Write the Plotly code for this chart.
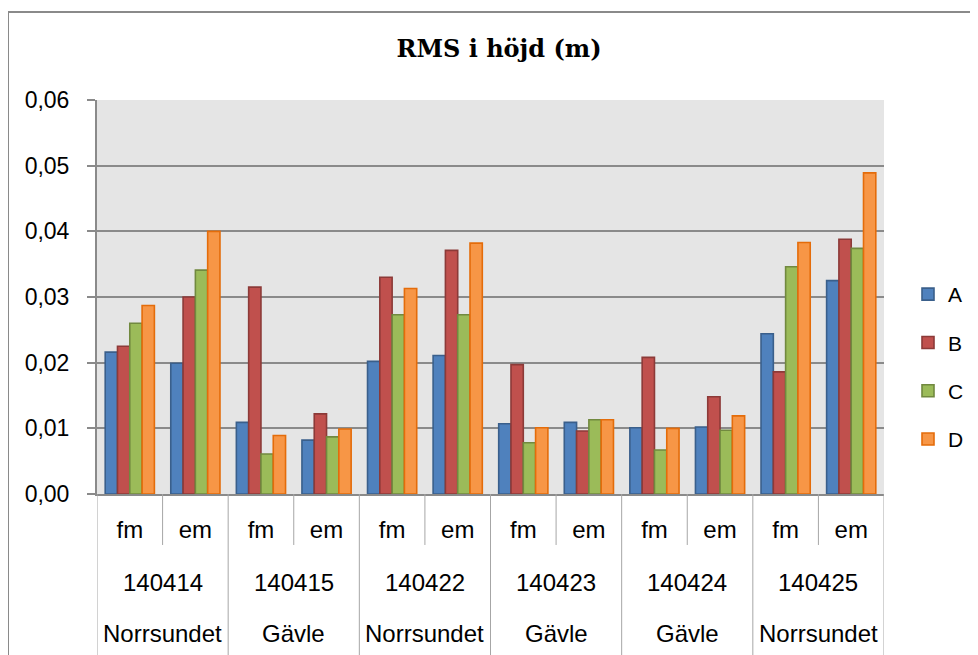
import plotly.graph_objects as go

dates = ["140414", "140415", "140422", "140423", "140424", "140425"]
places = ["Norrsundet", "Gävle", "Norrsundet", "Gävle", "Gävle", "Norrsundet"]
sessions = ["fm", "em"]

series_names = ["A", "B", "C", "D"]
values_a = [0.0216, 0.0199, 0.0109, 0.0082, 0.0202, 0.0211, 0.0107, 0.0109, 0.0101, 0.0102, 0.0244, 0.0325]
values_b = [0.0225, 0.0300, 0.0315, 0.0122, 0.0330, 0.0371, 0.0197, 0.0096, 0.0208, 0.0148, 0.0186, 0.0388]
values_c = [0.0260, 0.0341, 0.0061, 0.0087, 0.0273, 0.0273, 0.0078, 0.0113, 0.0067, 0.0097, 0.0346, 0.0374]
values_d = [0.0287, 0.0400, 0.0089, 0.0099, 0.0313, 0.0382, 0.0101, 0.0113, 0.0100, 0.0119, 0.0383, 0.0489]

fills = ["#4f81bd", "#c0504d", "#9bbb59", "#f79646"]
edges = ["#3a5f8b", "#8c3a38", "#71893f", "#e46c0a"]

labels = [s for _ in dates for s in sessions]
xpos = list(range(len(labels)))
grid = "#8a8a8a"
divider = "#a6a6a6"

# the page body has an 8px margin, so the figure sits at (8, 8)
W, H = 970, 647

fig = go.Figure()
for name, vals, fill, edge in zip(series_names, [values_a, values_b, values_c, values_d], fills, edges):
    fig.add_trace(
        go.Bar(
            x=xpos,
            y=vals,
            name=name,
            legendgroup=name,
            marker={"color": fill, "line": {"color": edge, "width": 1.6}},
        )
    )

# label table under the axis
shapes = []
for i in range(len(labels) + 1):
    bottom = -0.45 if i % 2 == 0 else -0.1294
    shapes.append(
        dict(type="line", xref="x", yref="paper", x0=i - 0.5, x1=i - 0.5, y0=0, y1=bottom,
             line={"color": divider, "width": 1})
    )
# outer chart border
shapes.append(
    dict(type="rect", xref="paper", yref="paper", x0=-0.1131, x1=1.2, y0=-0.5, y1=1.2234,
         line={"color": "#8a8a8a", "width": 2}, fillcolor="rgba(0,0,0,0)")
)

annotations = []
for g, (d, p) in enumerate(zip(dates, places)):
    annotations.append(
        dict(x=2 * g + 0.5, y=-0.2234, xref="x", yref="paper", text=d, showarrow=False,
             font={"size": 24, "color": "#000000"}, yanchor="middle")
    )
    annotations.append(
        dict(x=2 * g + 0.5, y=-0.3528, xref="x", yref="paper", text=p, showarrow=False,
             font={"size": 24, "color": "#000000"}, yanchor="middle")
    )

fig.update_layout(
    width=W,
    height=H,
    margin={"l": 89, "r": 94, "t": 92, "b": 161},
    paper_bgcolor="#ffffff",
    plot_bgcolor="#e5e5e5",
    font={"family": "Liberation Sans, Arial, sans-serif", "color": "#000000"},
    separators=", ",
    barmode="group",
    bargap=0.25,
    bargroupgap=0,
    title={
        "text": "<b>RMS i höjd (m)</b>",
        "font": {"family": "DejaVu Serif, serif", "size": 24, "color": "#000000"},
        "xref": "container",
        "yref": "container",
        "x": (499 - 8) / W,
        "y": 1 - (49 - 8) / H,
        "xanchor": "center",
        "yanchor": "middle",
    },
    legend={
        "xref": "container",
        "yref": "container",
        "x": (908 - 8) / W,
        "y": 1 - (367 - 8) / H,
        "xanchor": "left",
        "yanchor": "middle",
        "font": {"size": 21},
        "tracegroupgap": 18,
        "bgcolor": "rgba(0,0,0,0)",
    },
    shapes=shapes,
    annotations=annotations,
    showlegend=True,
)
fig.update_xaxes(
    range=[-0.5, len(labels) - 0.5],
    tickvals=xpos,
    ticktext=labels,
    tickfont={"size": 24},
    ticks="",
    ticklabelstandoff=13,
    showline=True,
    linecolor=grid,
    linewidth=2,
    showgrid=False,
    zeroline=False,
    fixedrange=True,
)
fig.update_yaxes(
    range=[0, 0.06],
    dtick=0.01,
    tickformat=".2f",
    tickfont={"size": 23},
    ticks="outside",
    ticklen=8,
    tickwidth=2,
    tickcolor=grid,
    ticklabelstandoff=13,
    showline=True,
    linecolor=grid,
    linewidth=2,
    showgrid=True,
    gridcolor=grid,
    gridwidth=2,
    zeroline=False,
    fixedrange=True,
)

fig.write_html("out.html")
